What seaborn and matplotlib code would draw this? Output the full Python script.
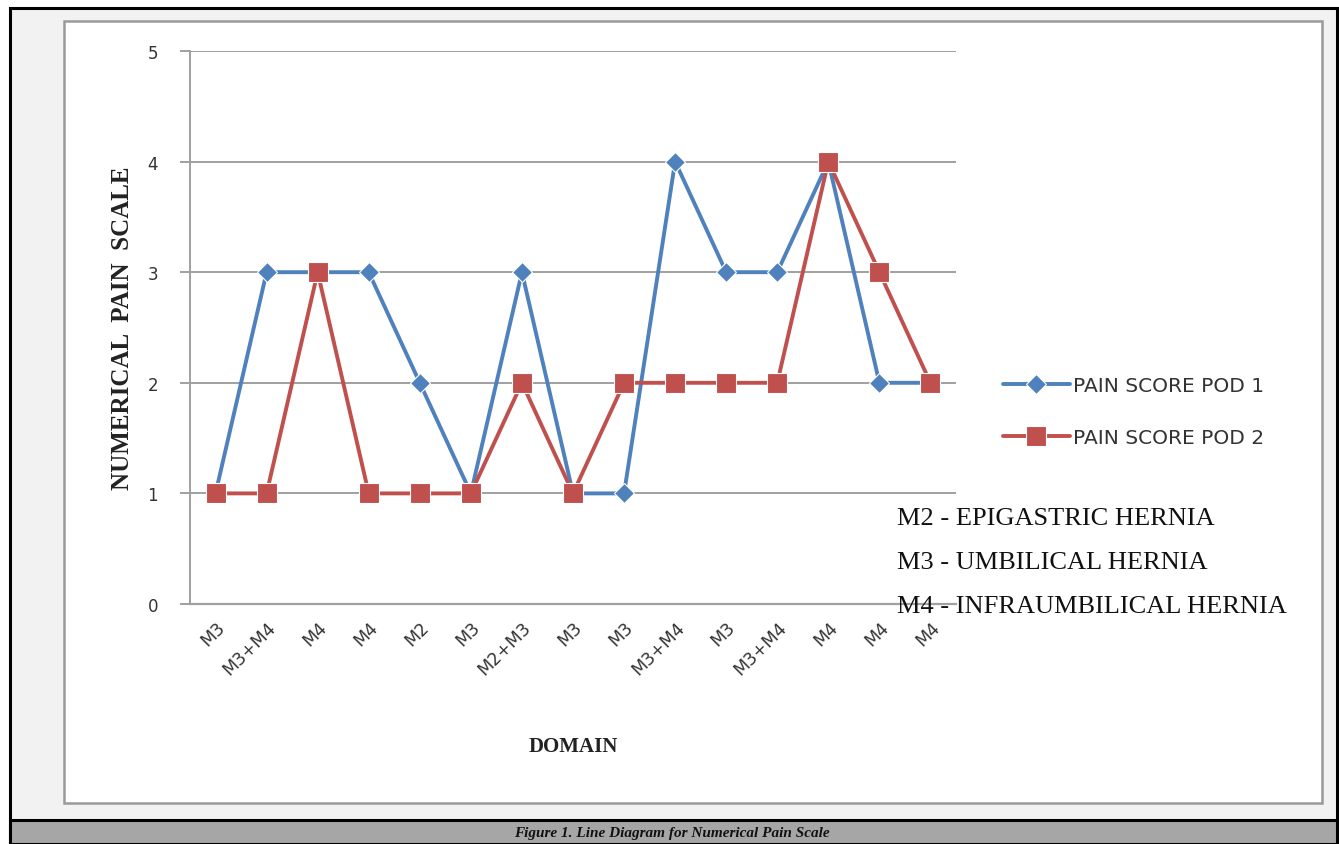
import matplotlib
matplotlib.use("Agg")
import matplotlib.pyplot as plt
from matplotlib.patches import Rectangle
import seaborn as sns
import pandas as pd

categories = ["M3", "M3+M4", "M4", "M4", "M2", "M3", "M2+M3", "M3", "M3",
              "M3+M4", "M3", "M3+M4", "M4", "M4", "M4"]
pod1 = [1, 3, 3, 3, 2, 1, 3, 1, 1, 4, 3, 3, 4, 2, 2]
pod2 = [1, 1, 3, 1, 1, 1, 2, 1, 2, 2, 2, 2, 4, 3, 2]
series_names = ["PAIN SCORE POD 1", "PAIN SCORE POD 2"]
notes = ["M2 - EPIGASTRIC HERNIA", "M3 - UMBILICAL HERNIA", "M4 - INFRAUMBILICAL HERNIA"]
yticks = [0, 1, 2, 3, 4, 5]

sns.set_style("white")

W, H = 1339, 845
fig = plt.figure(figsize=(W / 100, H / 100), dpi=100)
fig.patch.set_facecolor("white")

def fx(x): return x / W
def fy(y): return 1 - y / H

# outer frame and backgrounds
fig.patches.append(Rectangle((fx(10), fy(845)), fx(1337) - fx(10), fy(9) - fy(845),
                             transform=fig.transFigure, facecolor="#f2f2f2",
                             edgecolor="black", linewidth=2.2, zorder=-3))
fig.patches.append(Rectangle((fx(64), fy(804)), fx(1322) - fx(64), fy(22) - fy(804),
                             transform=fig.transFigure, facecolor="white",
                             edgecolor="#9a9a9a", linewidth=1.8, zorder=-2))
fig.patches.append(Rectangle((fx(10), fy(845)), fx(1337) - fx(10), fy(821) - fy(845),
                             transform=fig.transFigure, facecolor="#a6a6a6",
                             edgecolor="black", linewidth=2.2, zorder=-2))
fig.text(fx(672), fy(834), "Figure 1. Line Diagram for Numerical Pain Scale",
         ha="center", va="center", fontsize=11, fontstyle="italic",
         fontweight="bold", family="Liberation Serif", color="#111111")

ax = fig.add_axes([fx(190), fy(605), fx(956) - fx(190), fy(52) - fy(605)])
ax.set_facecolor("none")

x = list(range(len(categories)))
df = pd.DataFrame({
    "x": x * 2,
    "score": pod1 + pod2,
    "series": [series_names[0]] * len(x) + [series_names[1]] * len(x),
})
palette = {series_names[0]: "#4F81BD", series_names[1]: "#C0504D"}
sns.lineplot(data=df, x="x", y="score", hue="series", style="series",
             markers={series_names[0]: "D", series_names[1]: "s"},
             dashes=False, palette=palette, linewidth=2.8, ax=ax,
             markersize=9, markeredgewidth=0.8, legend=True)
for line in ax.lines:
    if line.get_marker() == "s":
        line.set_markersize(14)
    elif line.get_marker() == "D":
        line.set_markersize(10)

ax.set_xlim(-0.5, len(categories) - 0.5)
ax.set_ylim(0, 5)
ax.set_yticks(yticks)
ax.set_yticklabels([str(t) for t in yticks], fontsize=12, color="#333333")
ax.set_xticks(x)
ax.set_xticklabels(categories, rotation=45, ha="right", rotation_mode="anchor",
                   fontsize=12.5, color="#333333")
ax.yaxis.grid(True, color="#a0a0a0", linewidth=1.4)
ax.set_axisbelow(True)
for s in ["top", "right"]:
    ax.spines[s].set_visible(False)
ax.spines["left"].set_color("#a0a0a0")
ax.spines["left"].set_linewidth(1.4)
ax.spines["bottom"].set_color("#a0a0a0")
ax.spines["bottom"].set_linewidth(1.6)
ax.tick_params(axis="y", length=7, width=1.4, color="#a0a0a0", pad=16, left=True)
ax.tick_params(axis="x", length=0, pad=10)

ax.set_xlabel("DOMAIN", fontsize=15, fontweight="bold", family="Liberation Serif",
              color="#222222", labelpad=42)
ax.set_ylabel("NUMERICAL  PAIN  SCALE", fontsize=18, fontweight="bold",
              family="Liberation Serif", color="#222222", labelpad=10)

handles, labels = ax.get_legend_handles_labels()
ax.get_legend().remove()
fig.legend(handles, labels, loc="upper left",
           bbox_to_anchor=(fx(985), fy(359)), frameon=False,
           prop={"family": "DejaVu Sans", "size": 14.5},
           handlelength=3.3, handletextpad=0.15, labelspacing=1.65,
           labelcolor="#333333")

for i, t in enumerate(notes):
    fig.text(fx(897), fy(519 + 44 * i), t, ha="left", va="center", fontsize=19,
             family="Liberation Serif", color="#111111")

fig.savefig("out.png", dpi=100)
